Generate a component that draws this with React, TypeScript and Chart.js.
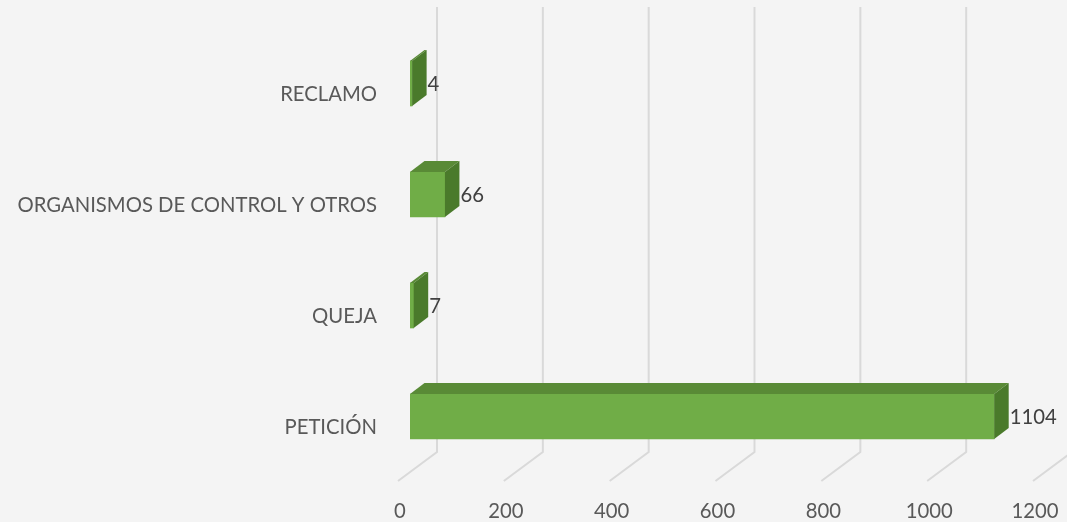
import React, { useEffect, useRef } from "react";
import { Chart, registerables } from "chart.js";

Chart.register(...registerables);

const categories = ["RECLAMO", "ORGANISMOS DE CONTROL Y OTROS", "QUEJA", "PETICIÓN"];
const values = [4, 66, 7, 1104];
const xTicks = [0, 200, 400, 600, 800, 1000, 1200];

const FRONT = "#70ad47";
const TOP = "#598a36";
const SIDE = "#4a7a2b";
const DX = 14.5;
const DY = -11;

const threeD = {
  id: "threeD",
  beforeDatasetsDraw(chart: any) {
    const ctx = chart.ctx;
    const xs = chart.scales.x;
    ctx.save();
    ctx.strokeStyle = "#d9d9d9";
    ctx.lineWidth = 2;
    xTicks.forEach((t) => {
      const px = xs.getPixelForValue(t);
      ctx.beginPath();
      ctx.moveTo(px + 27, 7);
      ctx.lineTo(px + 27, 452);
      ctx.lineTo(px - 12, 481);
      ctx.stroke();
    });
    ctx.restore();
  },
  afterDatasetsDraw(chart: any) {
    const ctx = chart.ctx;
    const meta = chart.getDatasetMeta(0);
    ctx.save();
    meta.data.forEach((bar: any, i: number) => {
      const p = bar.getProps(["x", "y", "base", "height"], true);
      const x = p.x;
      const base = p.base;
      const top = p.y - p.height / 2;
      const bottom = p.y + p.height / 2;
      ctx.fillStyle = TOP;
      ctx.beginPath();
      ctx.moveTo(base, top);
      ctx.lineTo(base + DX, top + DY);
      ctx.lineTo(x + DX, top + DY);
      ctx.lineTo(x, top);
      ctx.closePath();
      ctx.fill();
      ctx.fillStyle = SIDE;
      ctx.beginPath();
      ctx.moveTo(x, top);
      ctx.lineTo(x + DX, top + DY);
      ctx.lineTo(x + DX, bottom + DY);
      ctx.lineTo(x, bottom);
      ctx.closePath();
      ctx.fill();
      ctx.fillStyle = "#404040";
      ctx.font = "20.3px Lato";
      ctx.textAlign = "left";
      ctx.textBaseline = "middle";
      ctx.fillText(String(values[i]), x + DX + 1, p.y + 1);
    });
    ctx.restore();
  },
};

function noPad(scale: any) {
  scale.paddingLeft = 0;
  scale.paddingRight = 0;
  scale.paddingTop = 0;
  scale.paddingBottom = 0;
}

export default function App() {
  const ref = useRef<HTMLCanvasElement>(null);
  useEffect(() => {
    if (!ref.current) return;
    const chart = new Chart(ref.current, {
      type: "bar",
      data: {
        labels: categories,
        datasets: [
          {
            data: values,
            backgroundColor: FRONT,
            borderWidth: 0,
            barThickness: 45,
          },
        ],
      },
      options: {
        indexAxis: "y",
        animation: false,
        responsive: false,
        layout: { padding: { top: 28, right: 22, left: 0, bottom: 0 } },
        plugins: { legend: { display: false }, tooltip: { enabled: false } },
        scales: {
          x: {
            min: 0,
            max: 1200,
            afterBuildTicks(scale: any) {
              scale.ticks = xTicks.map((v) => ({ value: v }));
            },
            afterFit(scale: any) {
              scale.height = 50;
              noPad(scale);
            },
            grid: { display: false, drawTicks: false },
            border: { display: false },
            ticks: {
              color: "#595959",
              font: { family: "Lato", size: 20.3 },
              padding: 27,
              labelOffset: -10,
              maxRotation: 0,
              callback: (v: any) => String(v),
            },
          },
          y: {
            afterFit(scale: any) {
              scale.width = 410;
              noPad(scale);
            },
            grid: { display: false, drawTicks: false },
            border: { display: false },
            ticks: {
              color: "#595959",
              font: { family: "Lato", size: 20.3 },
              padding: 33,
              labelOffset: 11,
            },
          },
        },
      },
      plugins: [threeD],
    });
    return () => chart.destroy();
  }, []);
  return (
    <div style={{ position: "fixed", left: 0, top: 0, width: 1067, height: 522, background: "#f4f4f4" }}>
      <canvas ref={ref} width={1067} height={522} style={{ display: "block" }} />
    </div>
  );
}
